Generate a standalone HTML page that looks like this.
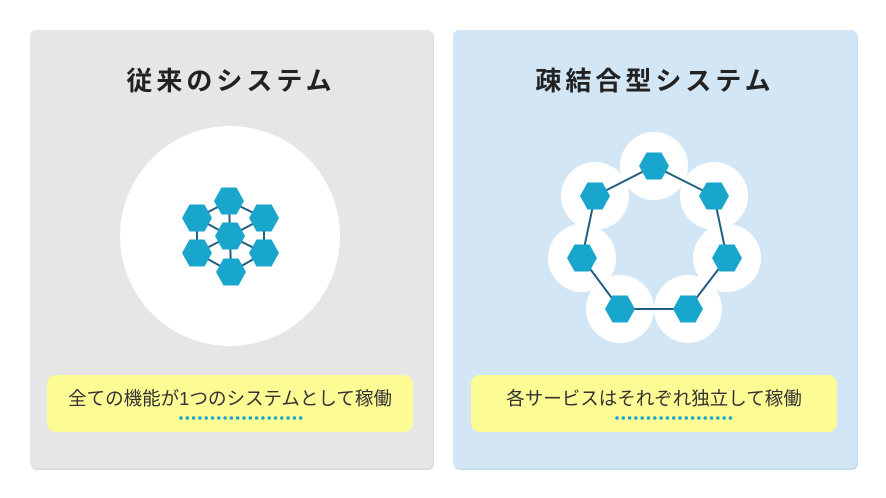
<!DOCTYPE html>
<html><head><meta charset="utf-8"><style>
html,body{margin:0;padding:0;background:#fff;width:886px;height:498px;overflow:hidden}
svg text{font-family:"Liberation Sans","Noto Sans CJK JP",sans-serif}
</style></head><body>
<svg width="886" height="498" viewBox="0 0 886 498" xmlns="http://www.w3.org/2000/svg">
<defs>
<polygon id="hx" points="-15,0 -7.5,-13.5 7.5,-13.5 15,0 7.5,13.5 -7.5,13.5" fill="#19a6cc"/>
</defs>
<rect x="31" y="31" width="403" height="439" rx="6" fill="#dcdcdc"/>
<rect x="30" y="30" width="403" height="438" rx="6" fill="#e6e6e6"/>
<rect x="454" y="31" width="404" height="439" rx="6" fill="#c6dcee"/>
<rect x="453" y="30" width="404" height="438" rx="6" fill="#d3e6f6"/>
<text x="231" y="90" text-anchor="middle" font-size="26" font-weight="bold" fill="#222" letter-spacing="4">従来のシステム</text>
<text x="655" y="90" text-anchor="middle" font-size="26" font-weight="bold" fill="#222" letter-spacing="4">疎結合型システム</text>
<circle cx="230" cy="236" r="110" fill="#fff"/>
<g stroke="#1f5f80" stroke-width="2">
<line x1="229" y1="201" x2="197" y2="218"/><line x1="229" y1="201" x2="264" y2="218"/><line x1="229" y1="201" x2="230" y2="236"/>
<line x1="197" y1="218" x2="197" y2="253"/><line x1="264" y1="218" x2="264" y2="253"/>
<line x1="197" y1="218" x2="230" y2="236"/><line x1="264" y1="218" x2="230" y2="236"/>
<line x1="197" y1="253" x2="230" y2="236"/><line x1="264" y1="253" x2="230" y2="236"/>
<line x1="197" y1="253" x2="231" y2="272"/><line x1="264" y1="253" x2="231" y2="272"/><line x1="230" y1="236" x2="231" y2="272"/>
</g>
<use href="#hx" x="229" y="201"/><use href="#hx" x="197" y="218"/><use href="#hx" x="264" y="218"/>
<use href="#hx" x="230" y="236"/><use href="#hx" x="197" y="253"/><use href="#hx" x="264" y="253"/><use href="#hx" x="231" y="272"/>
<g fill="#fff">
<circle cx="654" cy="166" r="34"/><circle cx="595" cy="196" r="34"/><circle cx="714" cy="196" r="34"/>
<circle cx="582" cy="258" r="34"/><circle cx="727" cy="258" r="34"/><circle cx="620" cy="309" r="34"/><circle cx="688" cy="309" r="34"/>
</g>
<polygon points="654,166 714,196 727,258 688,309 620,309 582,258 595,196" fill="none" stroke="#1f5f80" stroke-width="2"/>
<use href="#hx" x="654" y="166"/><use href="#hx" x="595" y="196"/><use href="#hx" x="714" y="196"/>
<use href="#hx" x="582" y="258"/><use href="#hx" x="727" y="258"/><use href="#hx" x="620" y="309"/><use href="#hx" x="688" y="309"/>
<rect x="47" y="375" width="366" height="57" rx="9" fill="#fdfb94"/>
<rect x="471" y="375" width="366" height="57" rx="9" fill="#fdfb94"/>
<text x="230" y="405" text-anchor="middle" font-size="18.5" fill="#333">全ての機能が1つのシステムとして稼働</text>
<text x="654" y="405" text-anchor="middle" font-size="18.5" fill="#333">各サービスはそれぞれ独立して稼働</text>
<line x1="181" y1="418" x2="301" y2="418" stroke="#19a6cc" stroke-width="3.5" stroke-linecap="round" stroke-dasharray="0 6.3"/>
<line x1="617" y1="418" x2="735" y2="418" stroke="#19a6cc" stroke-width="3.5" stroke-linecap="round" stroke-dasharray="0 6.3"/>
</svg>
</body></html>
